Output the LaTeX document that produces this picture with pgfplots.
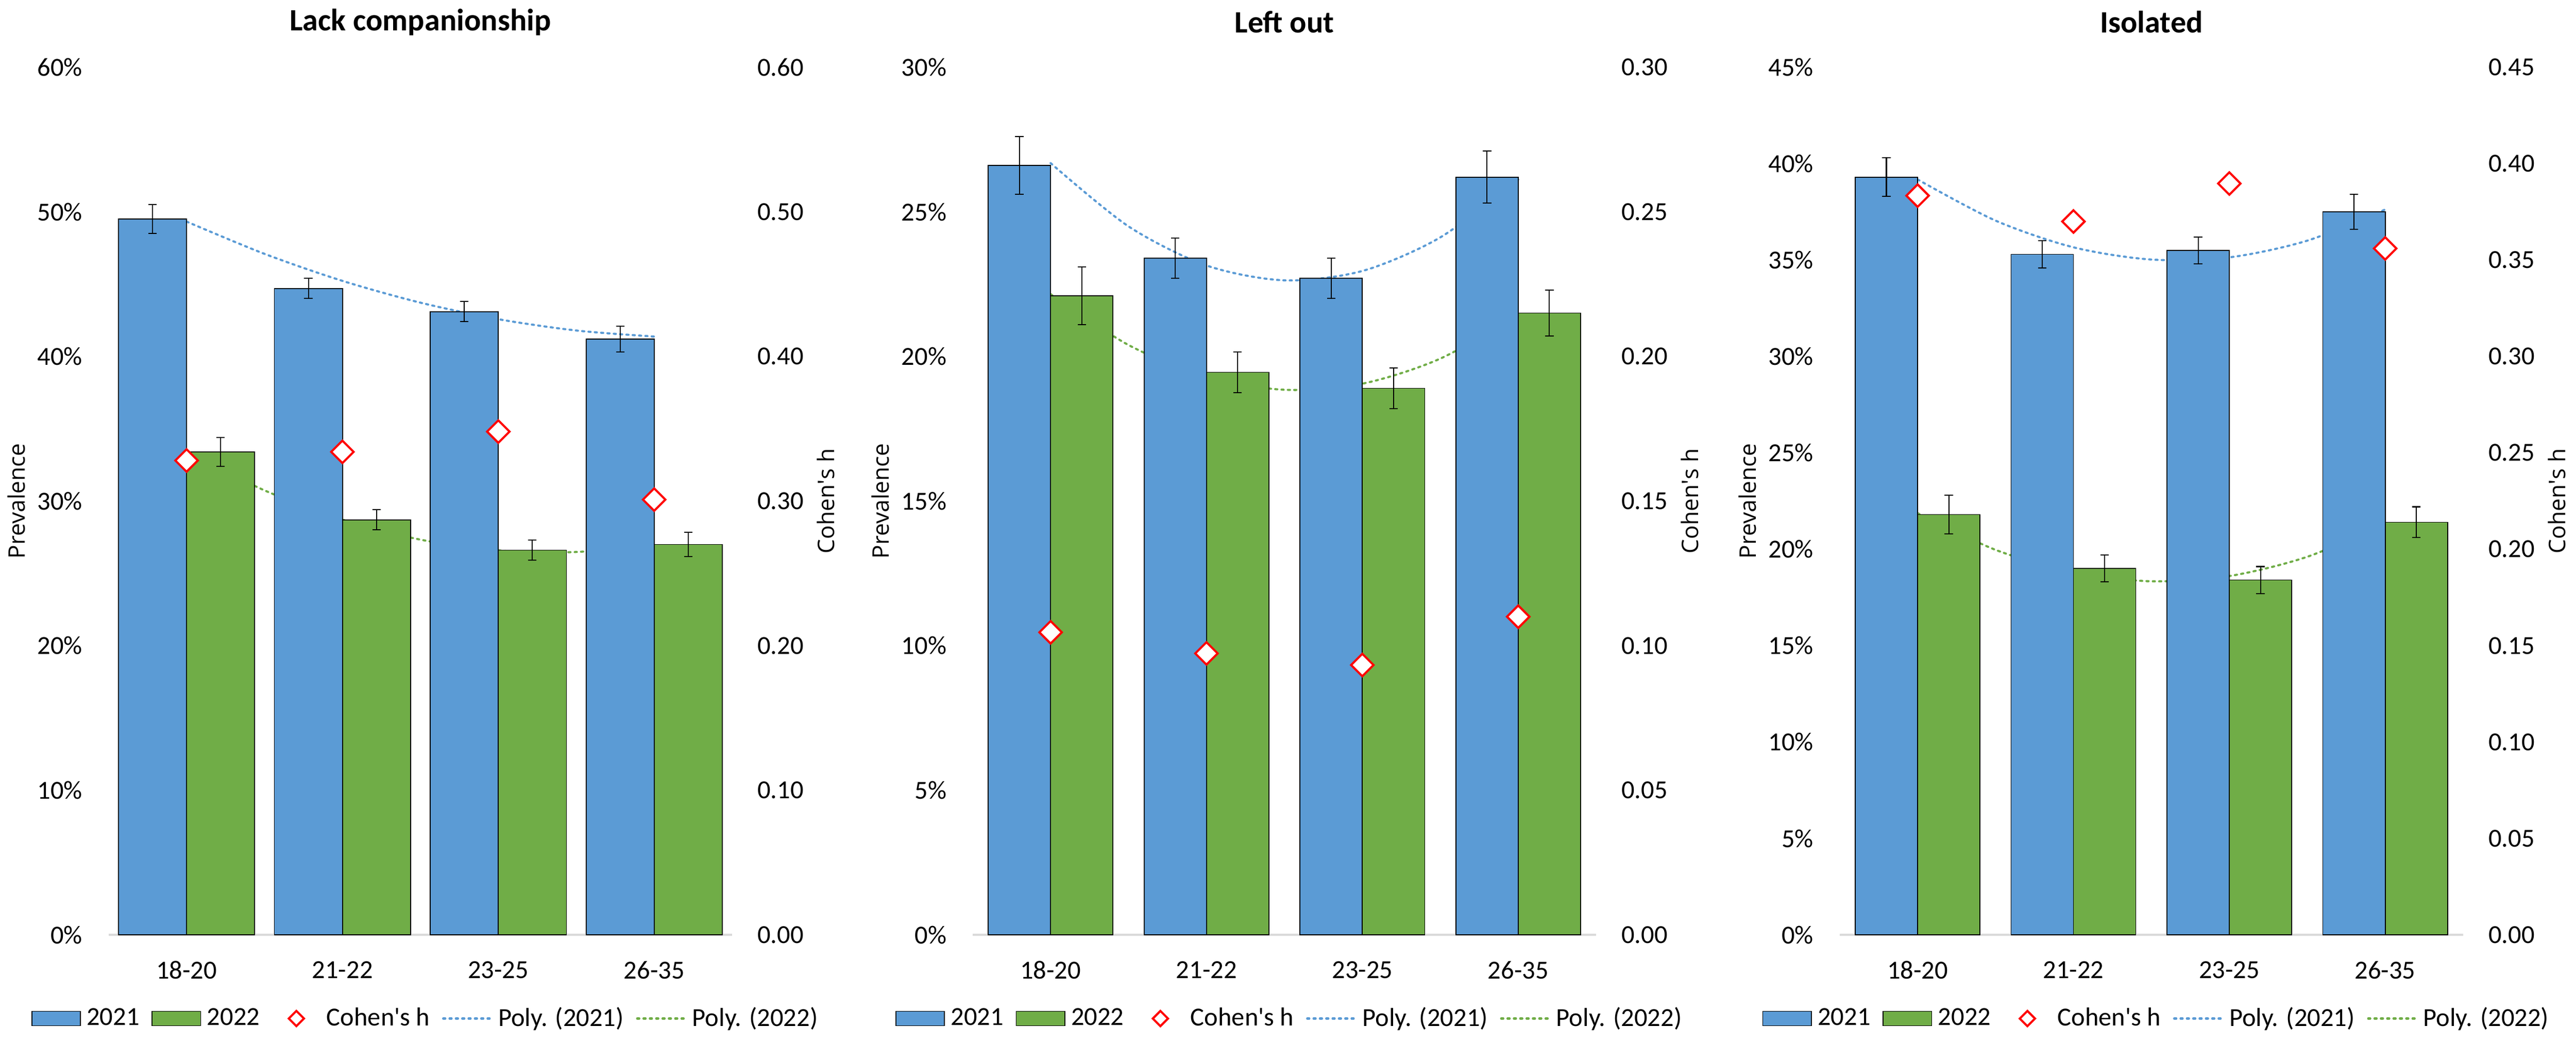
\documentclass[border=0pt]{standalone}
\usepackage{fontspec}
\setmainfont{Carlito}
\newfontfamily\labfont{Open Sans}
\usepackage{pgfplots}
\usepackage{pgfplotstable}
\pgfplotsset{compat=1.18}
\definecolor{c21}{HTML}{5B9BD5}
\definecolor{c22}{HTML}{70AD47}
\definecolor{axgray}{HTML}{D9D9D9}
\newcommand\tickfont{\fontsize{12.3}{14}\selectfont}
\newcommand\legfont{\fontsize{12.3}{14}\selectfont}
\newcommand\titfont{\bfseries\fontsize{14.7}{17}\selectfont}

% x, 2021 prevalence, error, 2022 prevalence, error, Cohen's h
\pgfplotstableread{
x b21 e21 b22 e22 h
1 49.5 1.0 33.4 1.0 0.328
2 44.7 0.7 28.7 0.7 0.334
3 43.1 0.7 26.6 0.7 0.348
4 41.2 0.9 27.0 0.85 0.301
}\dataA
\pgfplotstableread{
x b21 e21 b22 e22 h
1 26.6 1.0 22.1 1.0 0.1046
2 23.4 0.7 19.45 0.7 0.0973
3 22.7 0.7 18.9 0.7 0.0933
4 26.2 0.9 21.5 0.8 0.110
}\dataB
\pgfplotstableread{
x b21 e21 b22 e22 h
1 39.3 1.0 21.8 1.0 0.3834
2 35.3 0.7 19.0 0.7 0.370
3 35.5 0.7 18.4 0.7 0.3897
4 37.5 0.9 21.4 0.8 0.356
}\dataC
% polynomial (order 2) trend lines
\pgfplotstableread{
x t21 t22
1.0 49.325 33.395
1.5 47.094 30.736
2.0 45.225 28.715
2.5 43.719 27.331
3.0 42.575 26.585
3.5 41.794 26.476
4.0 41.375 27.005
}\trendA
\pgfplotstableread{
x t21 t22
1.0 26.685 22.153
1.5 24.496 20.394
2.0 23.145 19.293
2.5 22.631 18.847
3.0 22.955 19.058
3.5 24.116 19.924
4.0 26.115 21.448
}\trendB
\pgfplotstableread{
x t21 t22
1.0 39.18 21.87
1.5 37.045 19.968
2.0 35.66 18.79
2.5 35.025 18.338
3.0 35.14 18.61
3.5 36.005 19.608
4.0 37.62 21.33
}\trendC

\pgfplotsset{
  base/.style={scale only axis, width=295pt, height=410.4pt, xmin=0.5, xmax=4.5, ymin=0, anchor=south west,
    major tick length=0pt, /pgf/number format/assume math mode=true},
  prim/.style={base, clip=false, axis x line*=bottom, axis y line*=left,
    x axis line style={draw=axgray, line width=0.8pt, -},
    y axis line style={draw=none},
    xtick={1,2,3,4}, xticklabels={18-20,21-22,23-25,26-35},
    xticklabel style={anchor=center, inner sep=0pt, yshift=-16.6pt, font=\tickfont},
    yticklabel style={anchor=east, inner sep=0pt, xshift=-12.2pt, font=\tickfont},
    ylabel={Prevalence},
    ylabel style={at={([xshift=-43.6pt]axis description cs:0,0.5)}, anchor=center, font=\labfont\fontsize{10.8}{13}\selectfont}},
  sec/.style={base, axis x line=none, axis y line*=right,
    y axis line style={draw=none},
    yticklabel style={anchor=west, inner sep=0pt, xshift=11.8pt, font=\tickfont},
    ylabel={Cohen\textquotesingle s h},
    ylabel style={at={([xshift=44.4pt]axis description cs:1,0.5)}, anchor=center, font=\labfont\fontsize{10.8}{13}\selectfont},
    legend style={at={([xshift=2pt,yshift=-39.6pt]axis description cs:0.5,0)}, anchor=center, draw=none, fill=none,
      legend columns=-1, font=\legfont, nodes={inner sep=0pt},
      /tikz/every odd column/.append style={column sep=2.8pt},
      /tikz/every even column/.append style={column sep=5.8pt}}},
  trend21/.style={c21, line width=1pt, dash pattern=on 1pt off 2pt, line cap=round, smooth},
  trend22/.style={c22, line width=1pt, dash pattern=on 1pt off 2pt, line cap=round, smooth},
  barbase/.style={ybar, bar shift=0pt, draw=black, line width=0.4pt,
    error bars/y dir=both, error bars/y explicit,
    error bars/error mark=-,
    error bars/error bar style={black, line width=0.5pt, solid},
    error bars/error mark options={rotate=90, black, mark size=2pt, line width=0.5pt, solid}},
  bar21/.style={fill=c21, barbase},
  bar22/.style={fill=c22, barbase},
  hmark/.style={only marks, mark=square*, mark size=3.75pt,
    mark options={draw=red, fill=white, line width=1pt, rotate=45},
    legend image code/.code={\path[draw=none, fill=none] (0pt,-3.4pt) rectangle (23pt,3.4pt);
      \draw[red, fill=white, line width=1pt, solid] (11.5pt,3.6pt) -- (15.1pt,0pt) -- (11.5pt,-3.6pt) -- (7.9pt,0pt) -- cycle;}},
  leg21/.style={legend image code/.code={\draw[fill=c21, draw=black, line width=0.4pt] (0pt,-3.4pt) rectangle (23pt,3.4pt);}},
  leg22/.style={legend image code/.code={\draw[fill=c22, draw=black, line width=0.4pt] (0pt,-3.4pt) rectangle (23pt,3.4pt);}},
  legp21/.style={legend image code/.code={\draw[c21, line width=1pt, dash pattern=on 1pt off 2pt, line cap=round] (0.5pt,0pt) -- (23.3pt,0pt);}},
  legp22/.style={legend image code/.code={\draw[c22, line width=1pt, dash pattern=on 1pt off 2pt, line cap=round] (0.5pt,0pt) -- (23.3pt,0pt);}},
}

\begin{document}
\begin{tikzpicture}
\useasboundingbox (0,0) rectangle (1218.8pt,493.2pt);

% ---------------- Panel 1 ----------------
\begin{axis}[prim, at={(51.4pt,51pt)}, ymax=60, ytick={0,10,20,30,40,50,60},
  yticklabels={0\%,10\%,20\%,30\%,40\%,50\%,60\%}]
\addplot[trend21] table[x=x, y=t21]{\trendA};
\addplot[trend22] table[x=x, y=t22]{\trendA};
\addplot[bar width=0.4366, bar21] table[x expr=\thisrow{x}-0.2183, y=b21, y error=e21]{\dataA};
\addplot[bar width=0.4366, bar22] table[x expr=\thisrow{x}+0.2183, y=b22, y error=e22]{\dataA};
\node[font=\titfont, anchor=center, inner sep=0pt] at ([yshift=21.4pt]rel axis cs:0.5,1) {Lack companionship};
\end{axis}
\begin{axis}[sec, at={(51.4pt,51pt)}, ymax=0.6, ytick={0,0.1,0.2,0.3,0.4,0.5,0.6},
  yticklabels={0.00,0.10,0.20,0.30,0.40,0.50,0.60}]
\addlegendimage{leg21}\addlegendentry{2021}
\addlegendimage{leg22}\addlegendentry{2022}
\addplot[hmark] table[x=x, y=h]{\dataA};\addlegendentry{Cohen\textquotesingle s h}
\addlegendimage{legp21}\addlegendentry{Poly. (2021)}
\addlegendimage{legp22}\addlegendentry{Poly. (2022)}
\end{axis}

% ---------------- Panel 2 ----------------
\begin{axis}[prim, at={(460.2pt,51pt)}, ymax=30, ytick={0,5,10,15,20,25,30},
  yticklabels={0\%,5\%,10\%,15\%,20\%,25\%,30\%}]
\addplot[trend21] table[x=x, y=t21]{\trendB};
\addplot[trend22] table[x=x, y=t22]{\trendB};
\addplot[bar width=0.4, bar21] table[x expr=\thisrow{x}-0.2, y=b21, y error=e21]{\dataB};
\addplot[bar width=0.4, bar22] table[x expr=\thisrow{x}+0.2, y=b22, y error=e22]{\dataB};
\node[font=\titfont, anchor=center, inner sep=0pt] at ([yshift=21.4pt]rel axis cs:0.5,1) {Left out};
\end{axis}
\begin{axis}[sec, at={(460.2pt,51pt)}, ymax=0.3, ytick={0,0.05,0.1,0.15,0.2,0.25,0.3},
  yticklabels={0.00,0.05,0.10,0.15,0.20,0.25,0.30}]
\addlegendimage{leg21}\addlegendentry{2021}
\addlegendimage{leg22}\addlegendentry{2022}
\addplot[hmark] table[x=x, y=h]{\dataB};\addlegendentry{Cohen\textquotesingle s h}
\addlegendimage{legp21}\addlegendentry{Poly. (2021)}
\addlegendimage{legp22}\addlegendentry{Poly. (2022)}
\end{axis}

% ---------------- Panel 3 ----------------
\begin{axis}[prim, at={(870.4pt,51pt)}, ymax=45, ytick={0,5,10,15,20,25,30,35,40,45},
  yticklabels={0\%,5\%,10\%,15\%,20\%,25\%,30\%,35\%,40\%,45\%}]
\addplot[trend21] table[x=x, y=t21]{\trendC};
\addplot[trend22] table[x=x, y=t22]{\trendC};
\addplot[bar width=0.4, bar21] table[x expr=\thisrow{x}-0.2, y=b21, y error=e21]{\dataC};
\addplot[bar width=0.4, bar22] table[x expr=\thisrow{x}+0.2, y=b22, y error=e22]{\dataC};
\node[font=\titfont, anchor=center, inner sep=0pt] at ([yshift=21.4pt]rel axis cs:0.5,1) {Isolated};
\end{axis}
\begin{axis}[sec, at={(870.4pt,51pt)}, ymax=0.45, ytick={0,0.05,0.1,0.15,0.2,0.25,0.3,0.35,0.4,0.45},
  yticklabels={0.00,0.05,0.10,0.15,0.20,0.25,0.30,0.35,0.40,0.45}]
\addlegendimage{leg21}\addlegendentry{2021}
\addlegendimage{leg22}\addlegendentry{2022}
\addplot[hmark] table[x=x, y=h]{\dataC};\addlegendentry{Cohen\textquotesingle s h}
\addlegendimage{legp21}\addlegendentry{Poly. (2021)}
\addlegendimage{legp22}\addlegendentry{Poly. (2022)}
\end{axis}
\end{tikzpicture}
\end{document}
